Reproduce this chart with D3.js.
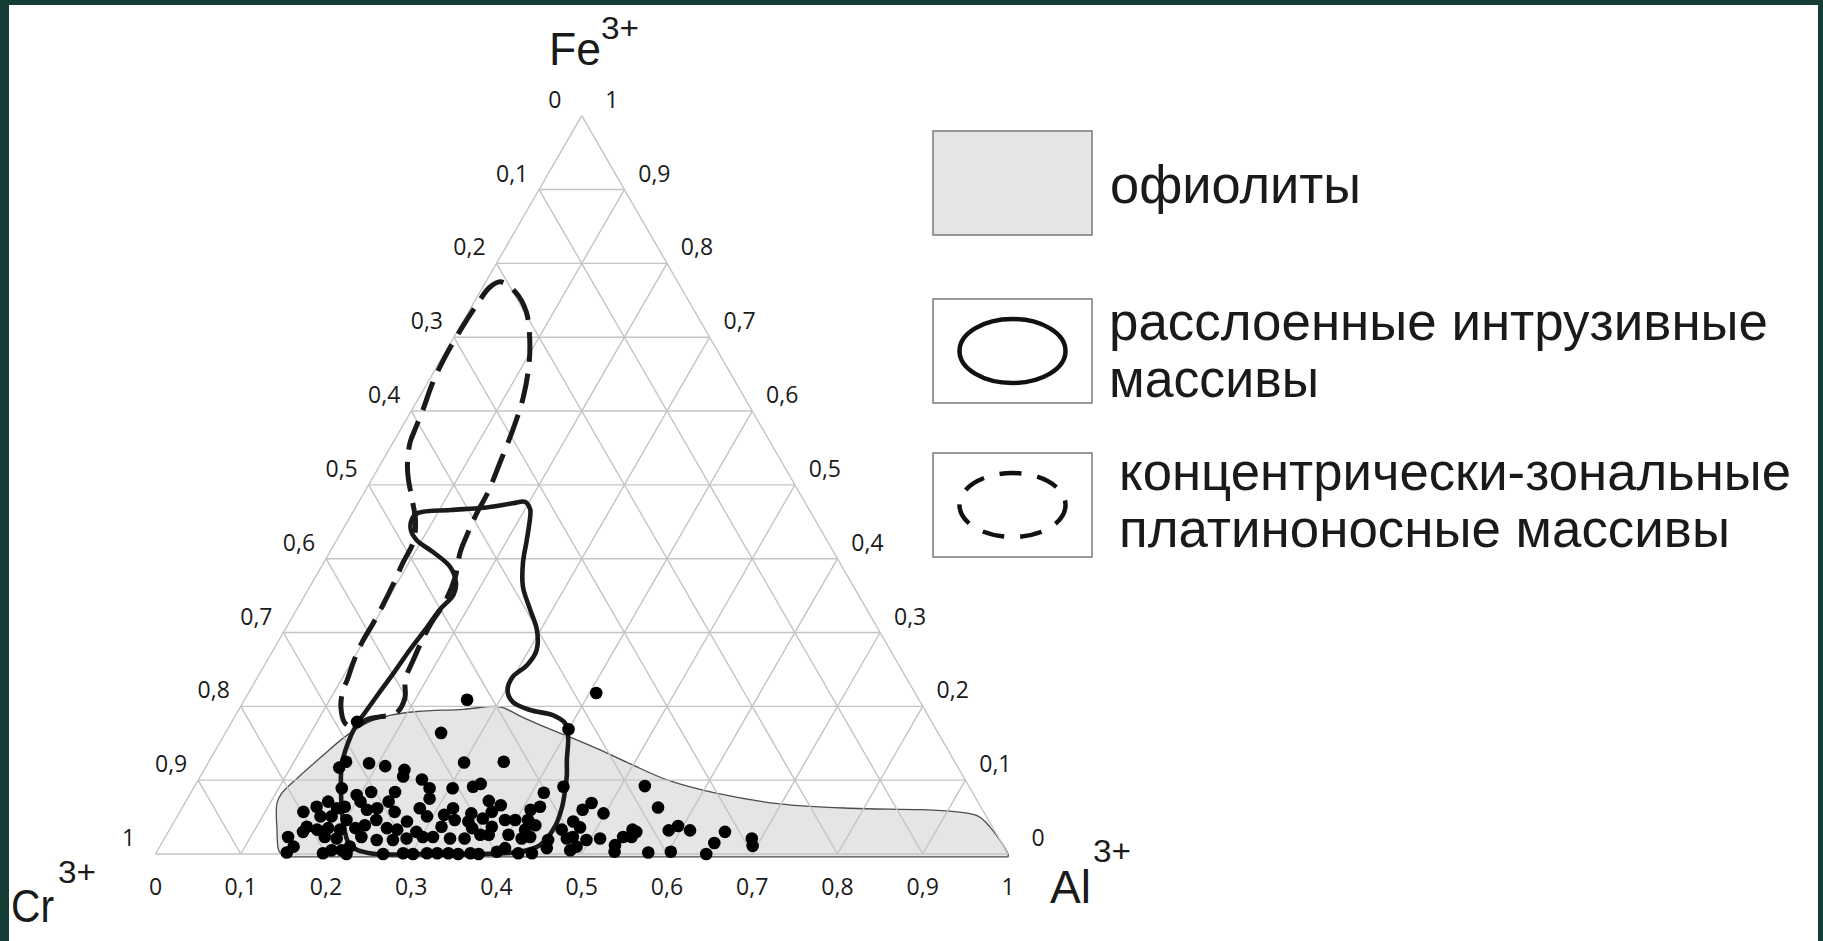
<!DOCTYPE html>
<html>
<head>
<meta charset="utf-8">
<script src="https://cdn.jsdelivr.net/npm/d3@7"></script>
<style>
  html, body { margin: 0; padding: 0; background: #143d35; }
  svg { display: block; }
</style>
</head>
<body>
<svg id="chart" width="1823" height="941"></svg>
<script>
// ternary values are [Al, Fe], Cr = 1 - Al - Fe
const tickValues = d3.range(0, 11).map(i => i / 10);
const cornerNames = ['Fe', 'Cr', 'Al'];
const cornerCharge = '3+';
const legendLabels = [
    ['офиолиты'],
    ['расслоенные интрузивные', 'массивы'],
    ['концентрически-зональные', 'платиноносные массивы']
];

// outline of the ophiolite field (gray)
const ophiolite = [
    [0.152, -0.004], [0.142, 0.005], [0.126, 0.033], [0.108, 0.069], [0.107, 0.082],
    [0.116, 0.105], [0.129, 0.132], [0.143, 0.159], [0.160, 0.178], [0.182, 0.188],
    [0.211, 0.193], [0.263, 0.196], [0.300, 0.200], [0.312, 0.197], [0.336, 0.186],
    [0.381, 0.168], [0.408, 0.158], [0.451, 0.141], [0.496, 0.122], [0.551, 0.100],
    [0.618, 0.082], [0.698, 0.068], [0.784, 0.062], [0.868, 0.060], [0.912, 0.057],
    [0.940, 0.051], [0.960, 0.037], [1.000, 0.000], [1.002, -0.004]
];

// layered intrusive massifs (solid)
const layered = [
    [0.445, 0.012], [0.426, 0.003], [0.381, 0.000], [0.310, 0.000], [0.251, 0.001],
    [0.222, 0.012], [0.197, 0.046], [0.174, 0.087], [0.158, 0.121], [0.151, 0.148],
    [0.148, 0.175], [0.150, 0.192], [0.153, 0.217], [0.157, 0.247], [0.160, 0.276],
    [0.165, 0.307], [0.168, 0.331], [0.174, 0.351], [0.169, 0.367], [0.151, 0.389],
    [0.121, 0.409], [0.094, 0.425], [0.080, 0.439], [0.074, 0.454], [0.077, 0.462],
    [0.113, 0.466], [0.150, 0.469], [0.182, 0.475], [0.195, 0.477], [0.206, 0.467],
    [0.211, 0.457], [0.223, 0.425], [0.234, 0.394], [0.250, 0.362], [0.274, 0.331],
    [0.296, 0.303], [0.309, 0.276], [0.308, 0.256], [0.299, 0.240], [0.302, 0.222],
    [0.316, 0.206], [0.342, 0.195], [0.372, 0.188], [0.392, 0.177], [0.405, 0.158],
    [0.419, 0.127], [0.429, 0.107], [0.437, 0.087], [0.445, 0.064], [0.450, 0.037]
];

// concentrically zoned platinum-bearing massifs (dashed)
const zoned = [
    [0.017, 0.775], [0.043, 0.760], [0.068, 0.734], [0.091, 0.696], [0.107, 0.662],
    [0.122, 0.619], [0.132, 0.574], [0.139, 0.530], [0.145, 0.490], [0.146, 0.463],
    [0.149, 0.435], [0.153, 0.409], [0.164, 0.375], [0.169, 0.339], [0.167, 0.314],
    [0.168, 0.290], [0.171, 0.263], [0.175, 0.236], [0.187, 0.211], [0.187, 0.191],
    [0.171, 0.186], [0.157, 0.182], [0.148, 0.172], [0.134, 0.177], [0.118, 0.199],
    [0.109, 0.222], [0.107, 0.236], [0.102, 0.261], [0.099, 0.286], [0.099, 0.313],
    [0.098, 0.340], [0.096, 0.367], [0.093, 0.394], [0.091, 0.423], [0.079, 0.452],
    [0.061, 0.480], [0.042, 0.509], [0.032, 0.527], [0.020, 0.557], [0.017, 0.574],
    [0.013, 0.601], [0.006, 0.638], [0.003, 0.673], [0.003, 0.714], [0.005, 0.746],
    [0.008, 0.767]
];

// spinel analyses
const points = [
    [0.261, 0.209], [0.408, 0.218], [0.147, 0.179], [0.253, 0.164], [0.400, 0.169],
    [0.161, 0.125], [0.157, 0.117], [0.189, 0.123], [0.210, 0.119], [0.235, 0.114],
    [0.238, 0.105], [0.262, 0.101], [0.277, 0.089], [0.284, 0.075], [0.174, 0.089],
    [0.211, 0.084], [0.239, 0.084], [0.196, 0.080], [0.238, 0.071], [0.145, 0.057],
    [0.157, 0.064], [0.167, 0.071], [0.182, 0.062], [0.190, 0.064], [0.205, 0.071],
    [0.218, 0.060], [0.229, 0.062], [0.252, 0.057], [0.279, 0.062], [0.168, 0.051],
    [0.181, 0.051], [0.201, 0.046], [0.236, 0.046], [0.273, 0.044], [0.293, 0.051],
    [0.159, 0.037], [0.173, 0.033], [0.185, 0.035], [0.200, 0.033], [0.217, 0.035],
    [0.226, 0.039], [0.254, 0.035], [0.267, 0.033], [0.291, 0.030], [0.144, 0.023],
    [0.158, 0.030], [0.187, 0.023], [0.202, 0.021], [0.230, 0.023], [0.250, 0.019],
    [0.269, 0.019], [0.284, 0.021], [0.302, 0.023], [0.157, 0.010], [0.153, 0.002],
    [0.196, 0.001], [0.204, 0.005], [0.216, 0.005], [0.223, 0.010], [0.224, 0.000],
    [0.267, 0.000], [0.290, 0.001], [0.302, 0.000], [0.318, 0.001],
    [0.300, 0.124], [0.346, 0.125], [0.304, 0.089], [0.327, 0.091], [0.334, 0.095],
    [0.433, 0.091], [0.414, 0.083], [0.355, 0.072], [0.372, 0.066], [0.318, 0.062],
    [0.312, 0.053], [0.343, 0.055], [0.366, 0.057], [0.410, 0.060], [0.419, 0.064],
    [0.471, 0.060], [0.477, 0.069], [0.498, 0.055], [0.328, 0.046], [0.345, 0.044],
    [0.360, 0.048], [0.387, 0.046], [0.399, 0.046], [0.414, 0.046], [0.426, 0.039],
    [0.468, 0.044], [0.480, 0.036], [0.317, 0.037], [0.354, 0.035], [0.376, 0.037],
    [0.417, 0.033], [0.314, 0.023], [0.335, 0.021], [0.352, 0.021], [0.368, 0.026],
    [0.378, 0.026], [0.401, 0.026], [0.419, 0.021], [0.428, 0.023], [0.451, 0.019],
    [0.460, 0.033], [0.472, 0.021], [0.478, 0.023], [0.496, 0.019], [0.511, 0.021],
    [0.330, 0.001], [0.343, 0.001], [0.355, 0.000], [0.369, 0.001], [0.379, 0.000],
    [0.399, 0.003], [0.406, 0.008], [0.425, 0.001], [0.441, 0.001], [0.455, 0.008],
    [0.484, 0.005], [0.489, 0.010],
    [0.528, 0.092], [0.558, 0.063], [0.533, 0.012], [0.537, 0.003], [0.537, 0.023],
    [0.547, 0.023], [0.549, 0.030], [0.543, 0.033], [0.577, 0.002], [0.586, 0.032],
    [0.594, 0.038], [0.611, 0.032], [0.603, 0.003], [0.646, 0.000], [0.648, 0.015],
    [0.653, 0.030], [0.689, 0.021], [0.695, 0.011]
];

const svg = d3.select('#chart');
const width = 1823, height = 941;

svg.append('rect')
    .attr('x', 9).attr('y', 5)
    .attr('width', width - 14).attr('height', height - 5)
    .attr('fill', '#ffffff');

// triangle: base from Cr (left) to Al (right), Fe at apex
const side = 852.5;
const x = d3.scaleLinear().domain([0, 1]).range([155.5, 155.5 + side]);
const y = d3.scaleLinear().domain([0, 1]).range([854, 854 - side * Math.sqrt(3) / 2]);
const px = d => x(d[0] + d[1] / 2);
const py = d => y(d[1]);
const fmt = v => v === 0 ? '0' : v === 1 ? '1' : d3.format('.1f')(v).replace('.', ',');

const plot = svg.append('g');

// ophiolite field
plot.append('path')
    .attr('d', d3.line().x(px).y(py).curve(d3.curveCatmullRom)(ophiolite) + 'Z')
    .attr('fill', '#e6e5e3')
    .attr('stroke', '#4d4d4d')
    .attr('stroke-width', 1.3);

// grid lines
const inner = tickValues.slice(1, -1);
const gridSegs = [];
inner.forEach(t => {
    gridSegs.push([[0, t], [1 - t, t]]);        // constant Fe
    gridSegs.push([[t, 0], [t, 1 - t]]);        // constant Al
    gridSegs.push([[1 - t, 0], [0, 1 - t]]);    // constant Cr
});
gridSegs.push([[0, 0], [1, 0]], [[1, 0], [0, 1]], [[0, 1], [0, 0]]);

plot.append('g').selectAll('line')
    .data(gridSegs)
    .join('line')
    .attr('x1', d => px(d[0])).attr('y1', d => py(d[0]))
    .attr('x2', d => px(d[1])).attr('y2', d => py(d[1]))
    .attr('stroke', '#c4c4c4')
    .attr('stroke-width', 1.4);

// tick labels
const tickFont = '"Open Sans", "DejaVu Sans", sans-serif';
const labels = plot.append('g')
    .attr('font-family', tickFont)
    .attr('font-size', 23)
    .attr('fill', '#1a1a1a')
    .attr('text-anchor', 'middle');

// bottom: Al
labels.selectAll('.al')
    .data(tickValues)
    .join('text')
    .attr('x', t => px([t, 0]))
    .attr('y', t => py([t, 0]) + 33)
    .attr('dy', '0.35em')
    .text(fmt);

// left: Cr
labels.selectAll('.cr')
    .data(tickValues)
    .join('text')
    .attr('x', c => px([0, 1 - c]) - 27)
    .attr('y', c => py([0, 1 - c]) - 16)
    .attr('dy', '0.35em')
    .text(fmt);

// right: Fe
labels.selectAll('.fe')
    .data(tickValues)
    .join('text')
    .attr('x', f => px([1 - f, f]) + 30)
    .attr('y', f => py([1 - f, f]) - 16)
    .attr('dy', '0.35em')
    .text(fmt);

// corner names
const cornerFont = '"Liberation Sans", Arial, sans-serif';
const corners = [
    {name: cornerNames[0], x: 549, y: 65, w: 52, sx: 601, sy: 39},
    {name: cornerNames[1], x: 11, y: 922, w: 43, sx: 58, sy: 883},
    {name: cornerNames[2], x: 1050, y: 903, w: 41, sx: 1093, sy: 862}
];
const cg = svg.append('g').attr('font-family', cornerFont).attr('fill', '#1a1a1a');
cg.selectAll('.name')
    .data(corners)
    .join('text')
    .attr('x', d => d.x).attr('y', d => d.y)
    .attr('font-size', 47)
    .attr('textLength', d => d.w)
    .attr('lengthAdjust', 'spacingAndGlyphs')
    .text(d => d.name);
cg.selectAll('.charge')
    .data(corners)
    .join('text')
    .attr('x', d => d.sx).attr('y', d => d.sy)
    .attr('font-size', 32)
    .attr('textLength', 38)
    .attr('lengthAdjust', 'spacingAndGlyphs')
    .text(cornerCharge);

// contours
const closed = d3.line().x(px).y(py).curve(d3.curveCatmullRomClosed);
plot.append('path')
    .attr('d', closed(zoned))
    .attr('fill', 'none')
    .attr('stroke', '#1a1a1a')
    .attr('stroke-width', 5)
    .attr('stroke-dasharray', '30 12');
plot.append('path')
    .attr('d', closed(layered))
    .attr('fill', 'none')
    .attr('stroke', '#1a1a1a')
    .attr('stroke-width', 4.6);

// data points
plot.append('g').selectAll('circle')
    .data(points)
    .join('circle')
    .attr('cx', px)
    .attr('cy', py)
    .attr('r', 6.3)
    .attr('fill', '#000');

// legend
const legend = svg.append('g');
const boxes = [
    {y: 131, kind: 'fill', lines: legendLabels[0], tx: 1110, ty: [203], tw: [251]},
    {y: 299, kind: 'solid', lines: legendLabels[1], tx: 1109, ty: [340, 397], tw: [659, 210]},
    {y: 453, kind: 'dash', lines: legendLabels[2], tx: 1119, ty: [490, 547], tw: [672, 611]}
];
const bx = 933, bw = 159, bh = 104;

boxes.forEach(b => {
    legend.append('rect')
        .attr('x', bx).attr('y', b.y)
        .attr('width', bw).attr('height', bh)
        .attr('fill', b.kind === 'fill' ? '#e6e5e3' : '#fff')
        .attr('stroke', '#7a7a7a')
        .attr('stroke-width', 1.5);
    if (b.kind !== 'fill') {
        legend.append('ellipse')
            .attr('cx', bx + bw / 2).attr('cy', b.y + bh / 2)
            .attr('rx', 53).attr('ry', 32)
            .attr('fill', 'none')
            .attr('stroke', '#111')
            .attr('stroke-width', 4.5)
            .attr('stroke-dasharray', b.kind === 'dash' ? '22 16' : null);
    }
    b.lines.forEach((t, i) => {
        legend.append('text')
            .attr('x', b.tx).attr('y', b.ty[i])
            .attr('font-family', '"Liberation Sans Narrow", "Liberation Sans", Arial, sans-serif')
            .attr('font-size', 54)
            .attr('fill', '#1a1a1a')
            .attr('textLength', b.tw[i])
            .attr('lengthAdjust', 'spacingAndGlyphs')
            .text(t);
    });
});
</script>
</body>
</html>
